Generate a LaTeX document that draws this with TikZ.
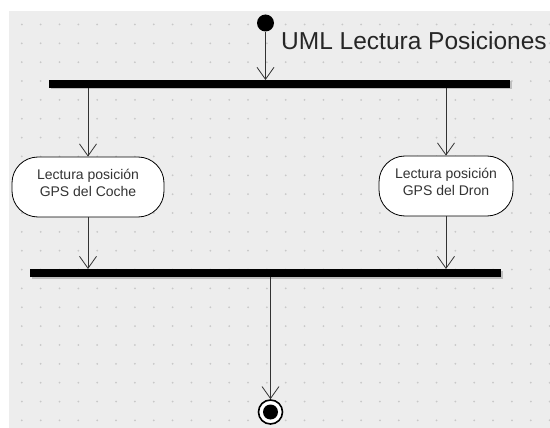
\documentclass[tikz,border=0pt]{standalone}
\usepackage{fontspec}
\setmainfont{Liberation Sans}
\usetikzlibrary{arrows.meta}
\definecolor{canvas}{HTML}{EDEDED}
\definecolor{griddot}{HTML}{C8C8C8}
\definecolor{ink}{HTML}{333333}
\begin{document}
\begin{tikzpicture}[x=1pt,y=-1pt,
  flow/.style={draw=ink, line width=0.8pt,
    -{Straight Barb[length=12pt,width=17pt,line width=0.8pt]}},
  syncbar/.style={rectangle, fill=black, minimum height=8pt,
    inner sep=0pt, outer sep=0pt},
  barshadow/.style={fill=black!25},
  action/.style={rectangle, draw=black, fill=white, line width=0.8pt,
    rounded corners=26pt, minimum height=60pt, inner sep=0pt,
    align=center, text=ink, text depth=9pt,
    font=\fontsize{14}{17}\selectfont},
  startnode/.style={circle, fill=black, minimum size=17pt, inner sep=0pt},
  endnode/.style={circle, draw=black, line width=1.6pt, fill=white,
    minimum size=24pt, inner sep=0pt},
]
% canvas with a dotted grid
\useasboundingbox (0,0) rectangle (550,428);
\fill[white] (0,0) rectangle (550,428);
\fill[canvas] (9,11) rectangle (550,428);
\foreach \i in {0,...,28}
  \foreach \j in {0,...,21}
    \fill[griddot] (21.8+18.85*\i, 24.5+18.85*\j) circle (1pt);

% title
\node[anchor=base west, inner sep=0pt, text=black!85,
  font=\fontsize{24.5}{29}\selectfont] (title) at (281,50) {UML Lectura Posiciones};

% start and end
\node[startnode] (init) at (265.5,23) {};
\node[endnode] (final) at (270.5,412) {};
\fill[black] (final) circle (7.5pt);

% fork and join bars (with soft shadow)
\fill[barshadow] (50.5,81.5) rectangle (511.5,89.5);
\node[syncbar, minimum width=461pt] (fork) at (279.5,84) {};
\fill[barshadow] (31.5,270.5) rectangle (502.5,278.5);
\node[syncbar, minimum width=471pt] (join) at (265.5,273) {};

% actions
\node[action, minimum width=152pt] (coche) at (88,187)
  {Lectura posición\\GPS del Coche};
\node[action, minimum width=134pt] (dron) at (446,186)
  {Lectura posición\\GPS del Dron};

% control flow
\draw[flow] (init) -- (init |- fork.north);
\draw[flow] (coche |- fork.south) -- (coche);
\draw[flow] (dron |- fork.south) -- (dron);
\draw[flow] (coche) -- (coche |- join.north);
\draw[flow] (dron) -- (dron |- join.north);
\draw[flow] (final |- join.south) -- (final);
\end{tikzpicture}
\end{document}
